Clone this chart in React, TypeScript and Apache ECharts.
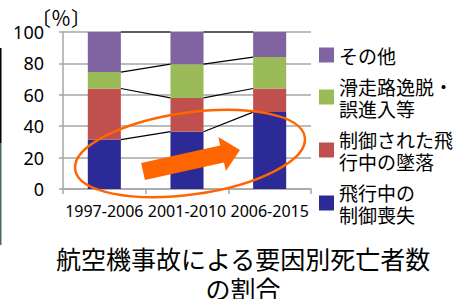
import React, { useEffect, useRef } from "react";
import * as echarts from "echarts";

const categories = ["1997-2006", "2001-2010", "2006-2015"];
const seriesNames = ["飛行中の\n制御喪失", "制御された飛\n行中の墜落", "滑走路逸脱・\n誤進入等", "その他"];
const lossOfControl = [31.5, 36.5, 49];
const controlledFlight = [32.5, 21.5, 15];
const runwayExcursion = [10.5, 21.5, 20];
const others = [25.5, 20.5, 16];
const colors = ["#2b2a96", "#c0504d", "#9bbb59", "#8064a2"];
const yTicks = [0, 20, 40, 60, 80, 100];
const unitLabel = "〔％〕";

const FONT = "'Noto Sans CJK JP', 'Noto Sans', sans-serif";

export default function App() {
  const ref = useRef<HTMLDivElement>(null);

  useEffect(() => {
    if (!ref.current) return;
    const chart = echarts.init(ref.current, undefined, { renderer: "svg" });
    const stacks = [lossOfControl, controlledFlight, runwayExcursion, others];
    const cum = categories.map((_, i) => {
      let s = 0;
      return stacks.map((arr) => (s += arr[i]));
    });

    const option: any = {
      animation: false,
      grid: { left: 63, right: 143, top: 32, bottom: 110 },
      title: {
        text: "航空機事故による要因別死亡者数\nの割合",
        left: 243,
        top: 243,
        padding: 0,
        textAlign: "center",
        textStyle: {
          fontFamily: FONT,
          fontSize: 25,
          lineHeight: 30,
          fontWeight: "normal",
          color: "#000",
        },
      },
      legend: {
        orient: "vertical",
        left: 314,
        top: 39,
        itemWidth: 15,
        itemHeight: 15,
        itemGap: 9,
        icon: "rect",
        data: [seriesNames[3], seriesNames[2], seriesNames[1], seriesNames[0]],
        textStyle: { fontFamily: FONT, fontSize: 19, lineHeight: 22, color: "#000" },
      },
      xAxis: {
        type: "category",
        data: categories,
        axisLine: { lineStyle: { color: "#a6a6a6", width: 1.5 } },
        axisTick: { show: true, length: 5, lineStyle: { color: "#a6a6a6", width: 1.5 } },
        axisLabel: { interval: 0, margin: 14, fontFamily: "'Noto Sans', sans-serif", fontSize: 16, color: "#000" },
      },
      yAxis: {
        type: "value",
        min: 0,
        max: 100,
        interval: 20,
        axisLine: { show: true, lineStyle: { color: "#a6a6a6", width: 1.5 } },
        axisTick: { show: true, length: 4, lineStyle: { color: "#a6a6a6", width: 1.5 } },
        splitLine: { lineStyle: { color: "#a6a6a6", width: 1.5 } },
        axisLabel: {
          margin: 19,
          fontFamily: "'Noto Sans', sans-serif",
          fontSize: 18,
          color: "#000",
          formatter: (v: number) => (yTicks.includes(v) ? String(v) : ""),
        },
      },
      series: [
        ...stacks.map((arr, k) => ({
          name: seriesNames[k],
          type: "bar",
          stack: "total",
          barWidth: "40%",
          data: arr,
          itemStyle: { color: colors[k] },
        })),
        {
          type: "custom",
          silent: true,
          data: [[0, 0], [1, 0]],
          encode: { x: 0, y: 1 },
          renderItem: (params: any, api: any) => {
            const i = api.value(0);
            const band = api.size([1, 0])[0];
            const half = band * 0.2;
            const children = cum[i].map((_: number, lvl: number) => {
              const p1 = api.coord([i, cum[i][lvl]]);
              const p2 = api.coord([i + 1, cum[i + 1][lvl]]);
              return {
                type: "line",
                shape: { x1: p1[0] + half, y1: p1[1], x2: p2[0] - half, y2: p2[1] },
                style: { stroke: "#000", lineWidth: 1.2 },
              };
            });
            return { type: "group", children };
          },
          z: 5,
        },
      ],
      graphic: [
        {
          type: "text",
          x: 61,
          y: 17,
          style: {
            text: unitLabel,
            font: "20px 'Noto Sans CJK JP'",
            fill: "#000",
            align: "center",
            verticalAlign: "middle",
          },
        },
        { type: "rect", shape: { x: 0, y: 48, width: 1.5, height: 95 }, style: { fill: "#000" } },
        { type: "rect", shape: { x: 0, y: 143, width: 1.5, height: 102 }, style: { fill: "#4f6668" } },
        {
          type: "ellipse",
          x: 190,
          y: 153.5,
          rotation: (8 * Math.PI) / 180,
          shape: { cx: 0, cy: 0, rx: 116, ry: 41 },
          style: { fill: "none", stroke: "#ff6600", lineWidth: 2.5 },
          z: 100,
        },
        {
          type: "polygon",
          shape: {
            points: [
              [141.1, 163.0],
              [220.2, 145.5],
              [218.3, 136.9],
              [240, 150],
              [225.9, 171.1],
              [224.0, 162.5],
              [144.9, 180.0],
            ],
          },
          style: { fill: "#ff6600" },
          z: 100,
        },
      ],
    };
    chart.setOption(option);
    return () => chart.dispose();
  }, []);

  return <div ref={ref} style={{ width: 454, height: 299, position: "absolute", left: 0, top: 0 }} />;
}
